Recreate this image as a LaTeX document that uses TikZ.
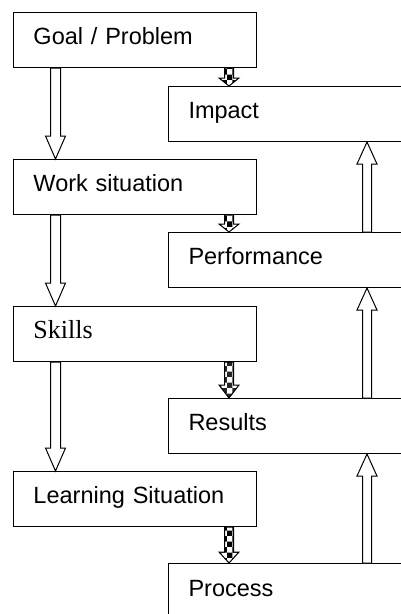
\documentclass[tikz,border=0pt]{standalone}
\usepackage{fontspec}
\setmainfont{Liberation Sans}
\newfontfamily\timesfont{Liberation Serif}
\usetikzlibrary{calc,patterns}
% block arrow: [look]{start}{end}{shaft half}{head half}{head length}
\newcommand{\hollowarrow}[6][fill=white]{%
    \coordinate (hb) at ($(#3)!#6!(#2)$);
    \draw[line width=1pt,#1] ($(#2)!#4!90:(#3)$) -- ($(hb)!#4!-90:(#2)$) -- ($(hb)!#5!-90:(#2)$) -- (#3)
        -- ($(hb)!#5!90:(#2)$) -- ($(hb)!#4!90:(#2)$) -- ($(#2)!#4!-90:(#3)$) -- cycle;
}
\begin{document}
\begin{tikzpicture}[x=1pt,y=-1pt,
    box/.style={draw,line width=1pt,anchor=north west,align=left,minimum height=55pt,inner xsep=20pt,inner ysep=0pt,
        text height=1.05em,text depth=0.2em,font=\fontsize{23.5}{28}\selectfont},
    lbox/.style={box,text width=202.5pt},
    rbox/.style={box,text width=220pt},
    chk/.style={fill=white,pattern=checkerboard},
    chkgray/.style={pattern=checkerboard,pattern color=black!85}]
    \useasboundingbox (0,0) rectangle (401,614);
    \clip (0,0) rectangle (401,614);
    % left column
    \node[lbox] (goal) at (13,12) {Goal / Problem};
    \node[lbox] (work) at (13,159) {Work situation};
    \node[lbox,font=\timesfont\fontsize{26}{30}\selectfont] (skills) at (13,306) {Skills};
    \node[lbox] (learn) at (13,471) {Learning Situation};
    % right column
    \node[rbox] (impact) at (168,86) {Impact};
    \node[rbox] (perf) at (168,232) {Performance};
    \node[rbox] (result) at (168,398) {Results};
    \node[rbox,minimum height=80pt,text depth=25pt] (process) at (168,563) {Process};
    \coordinate (lx) at (55.5,0);
    \coordinate (rx) at (367,0);
    \coordinate (sx) at (229,0);
    \foreach \a/\b in {goal/work,work/skills,skills/learn}{
        \coordinate (s) at (\a.south -| lx);
        \coordinate (e) at (\b.north -| lx);
        \hollowarrow{s}{e}{5pt}{10pt}{23pt}
    }
    \foreach \a/\b in {perf/impact,result/perf,process/result}{
        \coordinate (s) at (\a.north -| rx);
        \coordinate (e) at (\b.south -| rx);
        \hollowarrow{s}{e}{4.5pt}{10pt}{22pt}
    }
    \foreach \a/\b/\h/\f in {goal/impact/8pt/chk,work/perf/8pt/chk,skills/result/13pt/chkgray,learn/process/11pt/chk}{
        \coordinate (s) at (\a.south -| sx);
        \coordinate (e) at (\b.north -| sx);
        \hollowarrow[\f]{s}{e}{4.5pt}{10pt}{\h}
    }
\end{tikzpicture}
\end{document}
